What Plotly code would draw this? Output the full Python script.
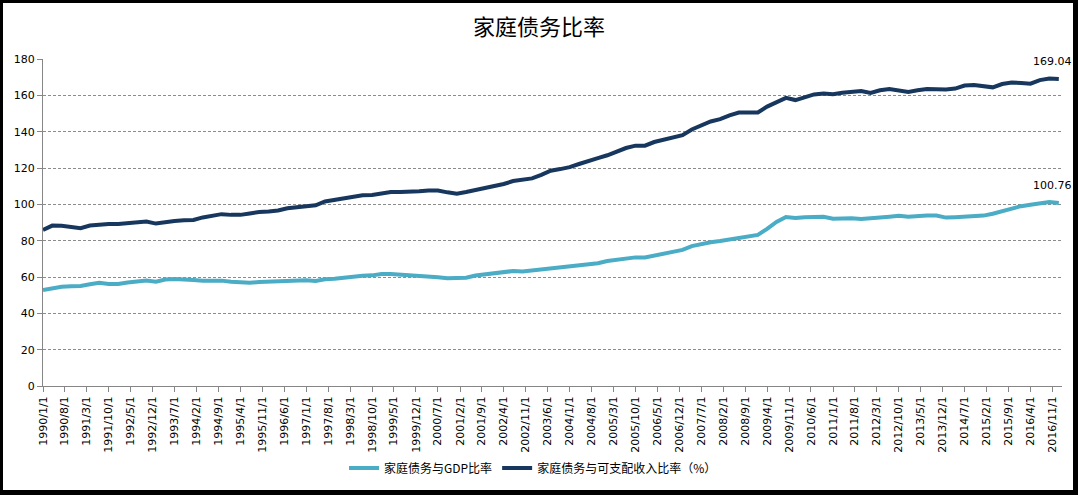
import pandas as pd
import plotly.graph_objects as go

# Quarterly data 1990Q1 .. 2017Q1
start_date = "1990-01-01"
debt_gdp = [52.8, 53.8, 54.6, 54.9, 55.0, 56.0, 56.8, 56.2, 56.1, 57.0, 57.4, 58.0, 57.4, 58.6, 58.9, 58.8,
            58.3, 58.0, 58.0, 58.0, 57.4, 56.9, 56.9, 57.2, 57.4, 57.5, 58.0, 58.1, 58.2, 57.8, 58.7, 59.0,
            59.7, 60.3, 60.7, 60.9,
            61.7, 61.7, 61.4, 60.9, 60.6, 60.3, 59.8, 59.3, 59.2, 59.6, 60.8, 61.4, 62.4, 63.1, 63.3, 63.0,
            63.6, 64.2, 64.6, 65.4, 65.6, 66.3, 67.1, 67.6, 68.8, 69.6, 70.4, 70.8, 70.8, 71.9, 73.0, 74.2,
            74.9, 77.0, 78.3, 79.1, 79.8, 80.7, 81.4, 82.2, 83.2, 86.5, 90.3, 93.0, 92.5, 92.9, 93.0, 93.2,
            92.1, 92.5, 92.4, 91.9, 92.1, 92.8, 93.2, 93.7, 93.2, 93.7, 93.8, 93.8, 92.7, 92.9, 93.2, 93.6,
            93.8, 94.8, 96.3, 97.8, 99.0, 99.8, 100.6, 101.3, 100.76]
debt_income = [85.9, 88.3, 88.2, 87.6, 86.9, 88.3, 89.0, 89.2, 89.2, 89.6, 89.7, 90.5, 89.4, 90.2, 90.8, 91.2,
               91.4, 92.8, 93.6, 94.6, 94.2, 94.2, 95.0, 95.8, 96.0, 96.6, 97.8, 98.3, 98.9, 99.5, 101.6, 102.4,
               103.4, 104.3, 105.0, 105.2,
               106.2, 106.8, 106.8, 106.8, 107.2, 107.6, 107.6, 106.6, 105.9, 106.8, 107.9, 109.0, 110.0, 111.2,
               112.8, 113.6, 114.3, 116.2, 118.5, 119.4, 120.5, 122.2, 124.0, 125.4, 127.0, 129.0, 131.0, 132.3,
               132.3, 134.3, 135.7, 137.0, 138.1, 141.2, 143.6, 145.6, 146.9, 149.0, 150.5, 150.6, 150.6, 153.8,
               156.3, 158.6, 157.4, 159.0, 160.5, 161.0, 160.6, 161.4, 162.0, 162.4, 161.3, 162.8, 163.5, 162.9,
               161.9, 162.8, 163.5, 163.3, 163.2, 163.7, 165.4, 165.7, 165.0, 164.4, 166.2, 167.0, 166.8, 166.4,
               168.4, 169.3, 169.04]
dates = pd.date_range(start=start_date, periods=len(debt_income), freq="QS")

name_gdp = "家庭债务与GDP比率"
name_income = "家庭债务与可支配收入比率（%）"
title_text = "家庭债务比率"

W, H = 1078, 495
L, R, T, B = 43, 16, 59, 109
PW, PH = W - L - R, H - T - B

def px_x(p):
    return (p - L) / PW

def px_y(p):
    return (H - B - p) / PH

fig = go.Figure()
fig.add_trace(go.Scatter(x=dates, y=debt_gdp, mode="lines", name=name_gdp,
                         line=dict(color="#4BACC6", width=4)))
fig.add_trace(go.Scatter(x=dates, y=debt_income, mode="lines", name=name_income,
                         line=dict(color="#17375E", width=4)))

for series in (debt_income, debt_gdp):
    fig.add_annotation(x=dates[-1], y=series[-1], text=f"{series[-1]:.2f}", showarrow=False,
                       xshift=-6, yshift=17, font=dict(family="DejaVu Sans", size=11, color="black"))

# black frame around the whole chart
frame = [(0, 0, 3, H), (0, 0, W, 3), (W - 5, 0, W, H), (0, H - 5, W, H)]
for x0, y0, x1, y1 in frame:
    fig.add_shape(type="rect", xref="paper", yref="paper",
                  x0=px_x(x0), x1=px_x(x1), y0=px_y(y1), y1=px_y(y0),
                  fillcolor="black", line=dict(width=0), layer="above")

fig.update_layout(
    width=W, height=H,
    margin=dict(l=L, r=R, t=T, b=B),
    paper_bgcolor="white", plot_bgcolor="white",
    font=dict(family="DejaVu Sans", size=11, color="black"),
    title=dict(text=title_text, x=0.5, xref="container", xanchor="center",
               y=1 - 27 / H, yref="container", yanchor="middle",
               font=dict(family="Noto Sans CJK SC", size=22, color="black")),
    showlegend=True,
    legend=dict(orientation="h", x=px_x(533), xanchor="center", y=px_y(468), yanchor="middle",
                font=dict(family="Noto Sans CJK SC", size=12, color="black"),
                bgcolor="rgba(0,0,0,0)"),
    xaxis=dict(type="date", range=["1990-01-01", "2017-02-01"], tick0="1990-01-01", dtick="M7",
               tickformat="%Y/%-m/%-d", tickangle=-90, ticks="outside", ticklen=5,
               tickcolor="#868686", showgrid=False, showline=True, linecolor="#868686",
               linewidth=1, zeroline=False, tickfont=dict(family="DejaVu Sans", size=11)),
    yaxis=dict(range=[0, 180], dtick=20, ticks="outside", ticklen=5, tickcolor="#868686",
               showline=True, linecolor="#868686", linewidth=1, zeroline=False,
               showgrid=True, gridcolor="#8c8c8c", gridwidth=1, griddash="3px,2px",
               tickfont=dict(family="DejaVu Sans", size=11)),
)

fig.write_html("out.html")
